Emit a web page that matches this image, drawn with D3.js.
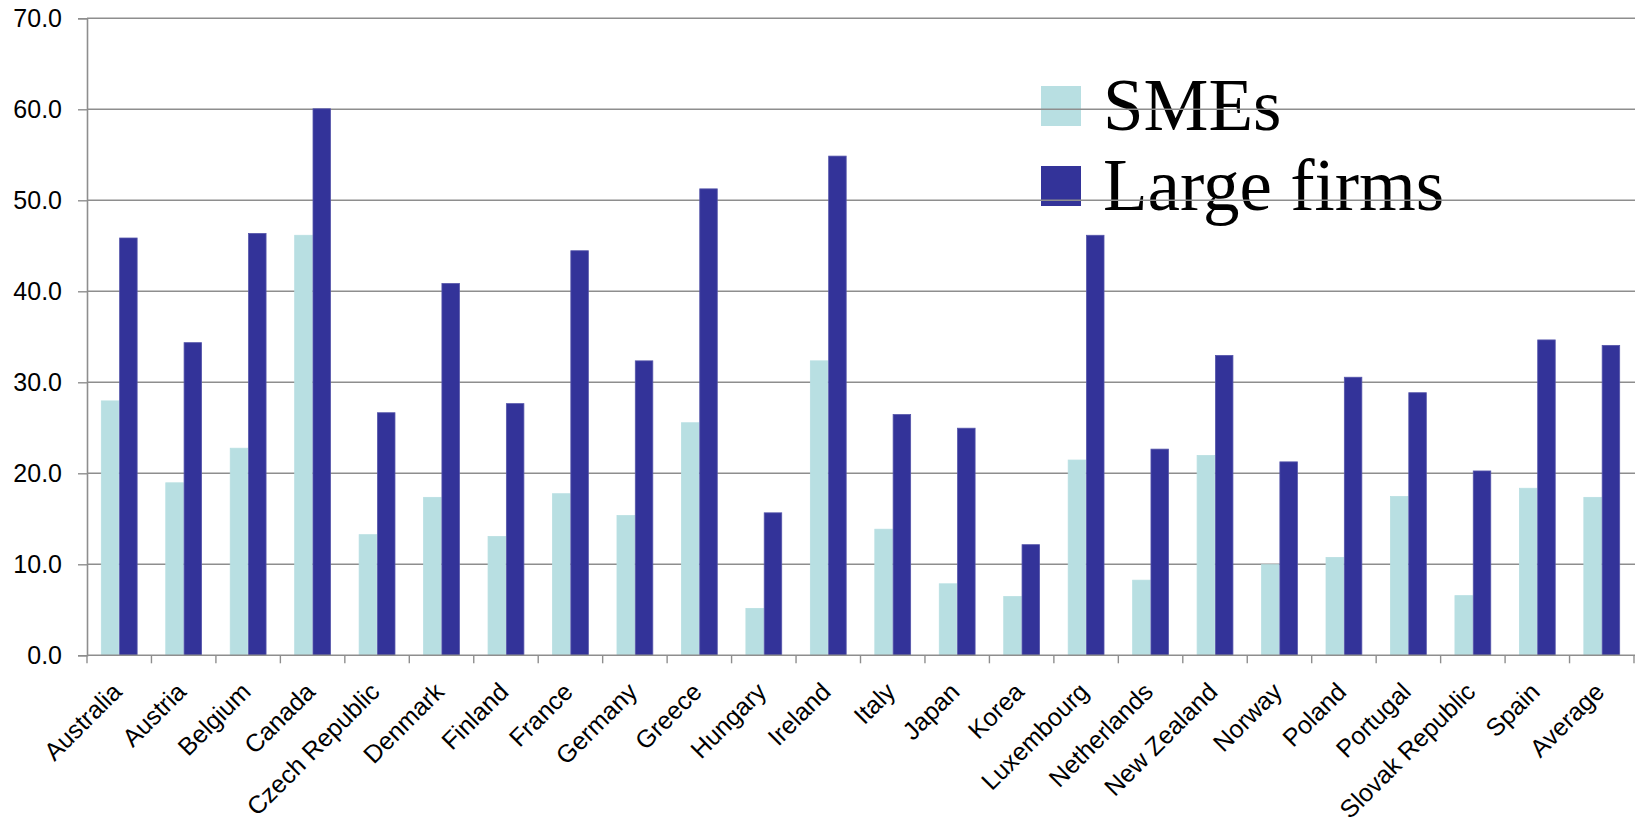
<!DOCTYPE html>
<html>
<head>
<meta charset="utf-8">
<script src="https://cdn.jsdelivr.net/npm/d3@7/dist/d3.min.js"></script>
<style>
  html, body { margin: 0; padding: 0; background: #fff; }
  svg { display: block; }
</style>
</head>
<body>
<svg id="chart" width="1638" height="820"></svg>
<script>
// Share of firms (%) by country: SMEs vs large firms
const countries = ["Australia", "Austria", "Belgium", "Canada", "Czech Republic", "Denmark",
  "Finland", "France", "Germany", "Greece", "Hungary", "Ireland", "Italy", "Japan", "Korea",
  "Luxembourg", "Netherlands", "New Zealand", "Norway", "Poland", "Portugal",
  "Slovak Republic", "Spain", "Average"];
const smes = [28.0, 19.0, 22.8, 46.2, 13.3, 17.4, 13.1, 17.8, 15.4, 25.6, 5.2, 32.4,
  13.9, 7.9, 6.5, 21.5, 8.3, 22.0, 10.0, 10.8, 17.5, 6.6, 18.4, 17.4];
const largeFirms = [45.9, 34.4, 46.4, 60.1, 26.7, 40.9, 27.7, 44.5, 32.4, 51.3, 15.7, 54.9,
  26.5, 25.0, 12.2, 46.2, 22.7, 33.0, 21.3, 30.6, 28.9, 20.3, 34.7, 34.1];
const seriesNames = ["SMEs", "Large firms"];
const seriesColors = ["#b8dfe2", "#333399"];
const seriesEdges = ["#b8dfe2", "#5555aa"];
const yTicks = [0, 10, 20, 30, 40, 50, 60, 70];

const svg = d3.select("#chart");
const plotLeft = 87, plotRight = 1634, plotTop = 18.3, plotBottom = 655.3;

const x0 = d3.scaleBand().domain(countries).range([plotLeft, plotRight]).paddingInner(0).paddingOuter(0);
const x1 = d3.scaleBand().domain(seriesNames).range([0, x0.bandwidth()]).paddingInner(0).paddingOuter(0.76);
const y = d3.scaleLinear().domain([0, 70]).range([plotBottom, plotTop]);
const color = d3.scaleOrdinal().domain(seriesNames).range(seriesColors);
const edge = d3.scaleOrdinal().domain(seriesNames).range(seriesEdges);

// Legend (sits underneath the gridlines)
const legend = svg.append("g").attr("transform", "translate(1041,86)");
seriesNames.forEach((name, i) => {
  const g = legend.append("g").attr("transform", `translate(0,${i * 80})`);
  g.append("rect").attr("width", 40).attr("height", 40).attr("fill", color(name));
  g.append("text")
    .attr("x", 62).attr("y", 44)
    .attr("font-family", "'Liberation Serif', 'Times New Roman', serif")
    .attr("font-size", 73)
    .attr("fill", "#000")
    .text(name);
});

// Horizontal gridlines
svg.append("g")
  .selectAll("line")
  .data(yTicks.slice(1))
  .join("line")
  .attr("x1", plotLeft).attr("x2", plotRight + 1)
  .attr("y1", d => y(d)).attr("y2", d => y(d))
  .attr("stroke", "#8e8e8e").attr("stroke-width", 1.4);

// Bars
const data = countries.map((c, i) => ({ country: c, values: [smes[i], largeFirms[i]] }));
svg.append("g")
  .selectAll("g")
  .data(data)
  .join("g")
  .attr("transform", d => `translate(${x0(d.country)},0)`)
  .selectAll("rect")
  .data(d => seriesNames.map((s, j) => ({ series: s, value: d.values[j] })))
  .join("rect")
  .attr("x", d => x1(d.series) + 0.4)
  .attr("width", x1.bandwidth() - 0.8)
  .attr("y", d => y(d.value) + 0.4)
  .attr("height", d => y(0) - y(d.value) - 0.4)
  .attr("fill", d => color(d.series))
  .attr("stroke", d => edge(d.series))
  .attr("stroke-width", 0.8);

// Y axis
const yAxis = svg.append("g")
  .attr("transform", `translate(${plotLeft},0)`)
  .call(d3.axisLeft(y).tickValues(yTicks).tickFormat(d3.format(".1f")).tickSize(9).tickPadding(16));
yAxis.select(".domain").attr("stroke", "#8e8e8e").attr("stroke-width", 1.6);
yAxis.selectAll(".tick line").attr("stroke", "#8e8e8e").attr("stroke-width", 1.4);
yAxis.selectAll(".tick text")
  .attr("font-family", "'Liberation Sans', Arial, sans-serif")
  .attr("font-size", 25)
  .attr("fill", "#000");

// X axis: ticks at category boundaries
const boundaries = countries.map(c => x0(c)).concat([plotRight]);
const xAxisG = svg.append("g");
xAxisG.append("line")
  .attr("x1", plotLeft).attr("x2", plotRight + 1)
  .attr("y1", plotBottom).attr("y2", plotBottom)
  .attr("stroke", "#8e8e8e").attr("stroke-width", 1.6);
xAxisG.selectAll("line.tick")
  .data(boundaries)
  .join("line")
  .attr("class", "tick")
  .attr("x1", d => d).attr("x2", d => d)
  .attr("y1", plotBottom).attr("y2", plotBottom + 8)
  .attr("stroke", "#8e8e8e").attr("stroke-width", 1.4);

xAxisG.selectAll("text")
  .data(countries)
  .join("text")
  .attr("transform", d => `translate(${x0(d) + x0.bandwidth() / 2 + 4},${plotBottom + 38}) rotate(-45)`)
  .attr("text-anchor", "end")
  .attr("font-family", "'Liberation Sans', Arial, sans-serif")
  .attr("font-size", 25)
  .attr("fill", "#000")
  .text(d => d);
</script>
</body>
</html>
